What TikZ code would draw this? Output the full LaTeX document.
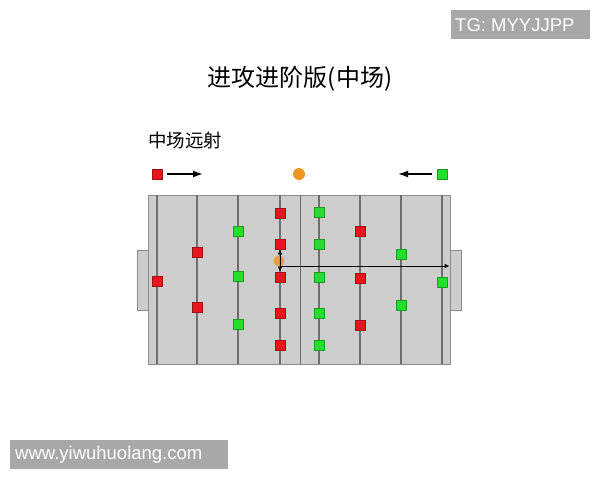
\documentclass[tikz,border=0pt]{standalone}
\usepackage{fontspec}
\setmainfont{Liberation Sans}
\newfontfamily\cjk{Noto Sans CJK SC}
\usetikzlibrary{arrows.meta}
\definecolor{fieldfill}{HTML}{CDCDCD}
\definecolor{fieldline}{HTML}{8C8C8C}
\definecolor{laneline}{HTML}{6E6E6E}
\definecolor{redfill}{HTML}{E8161C}
\definecolor{reddraw}{HTML}{A01212}
\definecolor{greenfill}{HTML}{22E02A}
\definecolor{greendraw}{HTML}{1C9A22}
\definecolor{balloj}{HTML}{F0961E}
\definecolor{tagfill}{HTML}{A8A8A8}
\tikzset{
  redsq/.style={rectangle, minimum size=10pt, inner sep=0pt, fill=redfill, draw=reddraw, line width=0.6pt},
  greensq/.style={rectangle, minimum size=10pt, inner sep=0pt, fill=greenfill, draw=greendraw, line width=0.6pt},
  ballnode/.style={circle, minimum size=11pt, inner sep=0pt, fill=balloj},
  lane/.style={draw=laneline, line width=1.2pt},
  legarrow/.style={line width=1.6pt, -{Latex[length=10pt,width=7pt]}},
  fieldarrow/.style={line width=0.9pt, -{Latex[length=5pt,width=4.5pt]}},
  tagbox/.style={rectangle, fill=tagfill, inner sep=0pt, anchor=north west},
  tagtext/.style={text=white, font=\fontsize{18.5}{22}\selectfont, inner sep=0pt, anchor=west}
}
\begin{document}
\begin{tikzpicture}[x=1pt,y=-1pt]
\useasboundingbox (0,0) rectangle (600,480);
\fill[white] (0,0) rectangle (600,480);

% corner tags
\node[tagbox, minimum width=139pt, minimum height=29pt] (tgbox) at (451,10) {};
\node[tagtext] (tgtext) at (455,25) {TG: MYYJJPP};
\node[tagbox, minimum width=218pt, minimum height=29pt] (wmbox) at (10,440) {};
\node[tagtext] (wmtext) at (15,455) {www.yiwuhuolang.com};

% titles
\node[font=\cjk\fontsize{24}{28}\selectfont, inner sep=0pt] (title) at (300,79) {进攻进阶版(中场)};
\node[font=\cjk\fontsize{18.5}{22}\selectfont, inner sep=0pt, anchor=west] (subtitle) at (148,140) {中场远射};

% legend
\node[redsq] (legred) at (157,174) {};
\coordinate (legredA) at (167,174);
\coordinate (legredB) at (203,174);
\draw[legarrow] (legredA) -- (legredB);
\node[ballnode, minimum size=12pt] (legball) at (299,174) {};
\node[greensq] (leggreen) at (442,174) {};
\coordinate (leggreenA) at (432,174);
\coordinate (leggreenB) at (398,174);
\draw[legarrow] (leggreenA) -- (leggreenB);

% goals and field
\node[rectangle, fill=fieldfill, draw=fieldline, line width=0.8pt, minimum width=11pt, minimum height=60pt, inner sep=0pt] (lgoal) at (142.5,280) {};
\node[rectangle, fill=fieldfill, draw=fieldline, line width=0.8pt, minimum width=11pt, minimum height=60pt, inner sep=0pt] (rgoal) at (455.5,280) {};
\node[rectangle, fill=fieldfill, draw=fieldline, line width=1pt, minimum width=302pt, minimum height=169pt, inner sep=0pt] (field) at (299,279.5) {};

% lanes
\foreach \lx in {157,197,238,280,319,360,401,442} {
  \draw[lane] (\lx,195) -- (\lx,364);
}
\draw[draw=laneline, line width=0.9pt] (300,195) -- (300,364);

% red players
\node[redsq] (r1) at (157,281) {};
\node[redsq] (r2) at (197,252) {};
\node[redsq] (r3) at (197,307) {};
\node[redsq] (r4) at (280,213) {};
\node[redsq] (r5) at (280,244) {};
\node[redsq] (r6) at (280,277) {};
\node[redsq] (r7) at (280,313) {};
\node[redsq] (r8) at (280,345) {};
\node[redsq] (r9) at (360,231) {};
\node[redsq] (r10) at (360,278) {};
\node[redsq] (r11) at (360,325) {};

% green players
\node[greensq] (g1) at (238,231) {};
\node[greensq] (g2) at (238,276) {};
\node[greensq] (g3) at (238,324) {};
\node[greensq] (g4) at (319,212) {};
\node[greensq] (g5) at (319,244) {};
\node[greensq] (g6) at (319,277) {};
\node[greensq] (g7) at (319,313) {};
\node[greensq] (g8) at (319,345) {};
\node[greensq] (g9) at (401,254) {};
\node[greensq] (g10) at (401,305) {};
\node[greensq] (g11) at (442,282) {};

% ball and moves
\node[ballnode, opacity=0.85] (ball) at (279,261) {};
\draw[fieldarrow, {Latex[length=5pt,width=4.5pt]}-{Latex[length=5pt,width=4.5pt]}] (r5.south) -- (r6.north);
\coordinate (shotA) at (281,266);
\draw[fieldarrow] (shotA) -- (shotA -| rgoal.west);
\end{tikzpicture}
\end{document}
